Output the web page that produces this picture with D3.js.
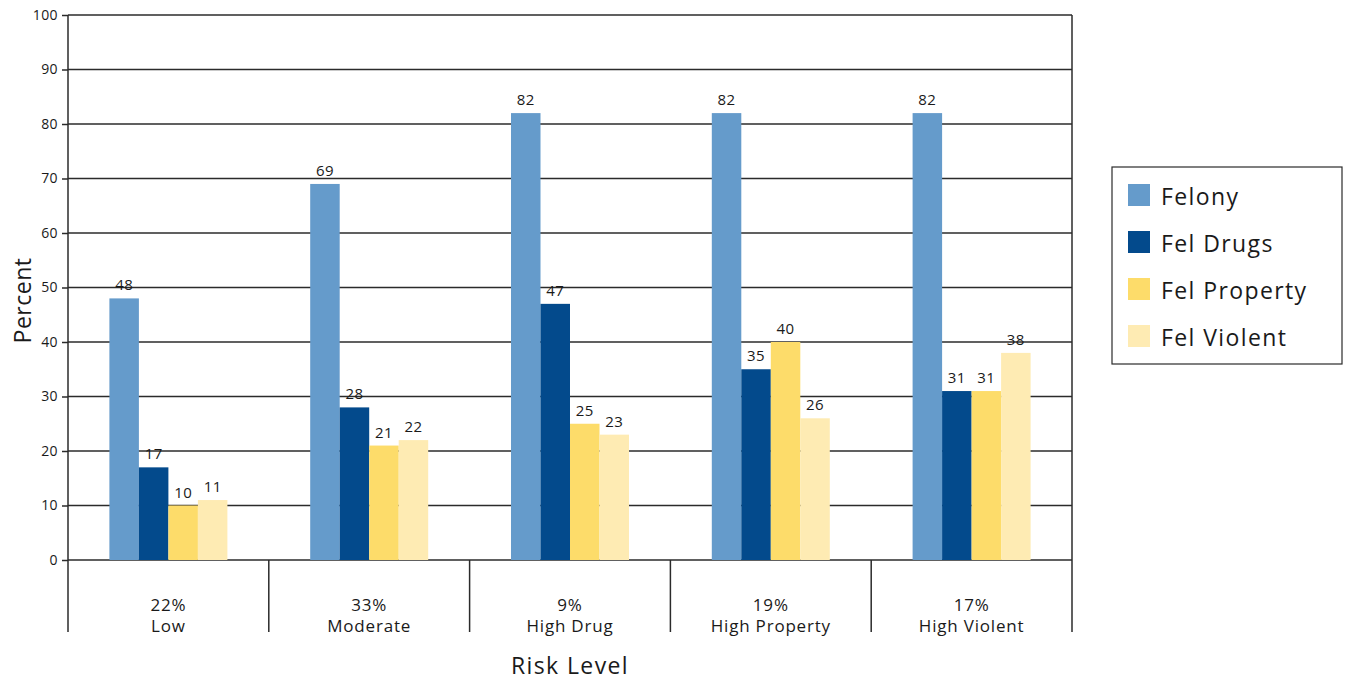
<!DOCTYPE html>
<html>
<head>
<meta charset="utf-8">
<script src="https://cdn.jsdelivr.net/npm/d3@7"></script>
<style>
  body { margin: 0; background: #fff; }
  text { font-family: "Open Sans", "Noto Sans", sans-serif; fill: #1a1a1a; }
</style>
</head>
<body>
<div id="chart"></div>
<script>
// categories and series
var shares = ["22%", "33%", "9%", "19%", "17%"]
var levels = ["Low", "Moderate", "High Drug", "High Property", "High Violent"]
var seriesNames = ["Felony", "Fel Drugs", "Fel Property", "Fel Violent"]
var felony = [48, 69, 82, 82, 82]
var felDrugs = [17, 28, 47, 35, 31]
var felProperty = [10, 21, 25, 40, 31]
var felViolent = [11, 22, 23, 26, 38]
var yTicks = [0, 10, 20, 30, 40, 50, 60, 70, 80, 90, 100]

var colors = ["#659bcb", "#034a8c", "#fddc6a", "#feebb3"]
var seriesValues = [felony, felDrugs, felProperty, felViolent]

var margin = {top: 15, right: 273, bottom: 121, left: 68},
    width = 1345 - margin.left - margin.right,
    height = 681 - margin.top - margin.bottom;

var svg = d3.select("#chart")
  .append("svg")
    .attr("width", 1345)
    .attr("height", 681)

var chart = svg.append("g")
  .attr("transform", "translate(" + margin.left + "," + margin.top + ")")

var x = d3.scaleBand()
  .domain(levels)
  .range([0, width])

var inner = d3.scaleBand()
  .domain(seriesNames)
  .range([0, 118])

var y = d3.scaleLinear()
  .domain([0, 100])
  .range([height, 0])

// gridlines
chart.append("g")
  .selectAll("line")
  .data(yTicks)
  .join("line")
    .attr("x1", 0)
    .attr("x2", width)
    .attr("y1", d => y(d))
    .attr("y2", d => y(d))
    .attr("stroke", "#2b2b2b")
    .attr("stroke-width", 1.5)

// Y axis
var yAxis = chart.append("g")
  .call(d3.axisLeft(y).tickValues(yTicks).tickSize(6).tickPadding(4))
yAxis.select(".domain").remove()
yAxis.selectAll("line").attr("stroke", "#2b2b2b").attr("stroke-width", 1.5)
yAxis.selectAll("text")
  .style("font-family", "'Open Sans', 'Noto Sans', sans-serif")
  .style("font-size", "14px")
  .style("letter-spacing", "0.4px")
  .attr("fill", "#1a1a1a")

// bars
levels.forEach((lvl, i) => {
  var g = chart.append("g")
    .attr("transform", "translate(" + (x(lvl) + x.bandwidth() / 2 - 59) + ",0)")
  seriesNames.forEach((s, j) => {
    var v = seriesValues[j][i]
    g.append("rect")
      .attr("x", inner(s))
      .attr("width", inner.bandwidth())
      .attr("y", y(v))
      .attr("height", height - y(v))
      .attr("fill", colors[j])
    g.append("text")
      .attr("x", inner(s) + inner.bandwidth() / 2)
      .attr("y", y(v) - 8)
      .attr("text-anchor", "middle")
      .style("font-size", "15px")
      .style("letter-spacing", "0.4px")
      .text(v)
  })
})

// left axis line and right border
chart.append("line")
  .attr("x1", 0).attr("x2", 0)
  .attr("y1", 0).attr("y2", height + 72)
  .attr("stroke", "#2b2b2b").attr("stroke-width", 1.5)
chart.append("line")
  .attr("x1", width).attr("x2", width)
  .attr("y1", 0).attr("y2", height + 72)
  .attr("stroke", "#2b2b2b").attr("stroke-width", 1.5)

// category dividers
chart.append("g")
  .selectAll("line")
  .data(levels.slice(1))
  .join("line")
    .attr("x1", d => x(d))
    .attr("x2", d => x(d))
    .attr("y1", height)
    .attr("y2", height + 72)
    .attr("stroke", "#2b2b2b")
    .attr("stroke-width", 1.5)

// category labels
var cat = chart.append("g")
  .selectAll("text")
  .data(levels)
  .join("text")
    .attr("x", d => x(d) + x.bandwidth() / 2)
    .attr("y", height + 51)
    .attr("text-anchor", "middle")
    .style("font-size", "17px")
    .style("letter-spacing", "0.8px")
cat.append("tspan")
  .attr("x", d => x(d) + x.bandwidth() / 2)
  .text((d, i) => shares[i])
cat.append("tspan")
  .attr("x", d => x(d) + x.bandwidth() / 2)
  .attr("dy", 21)
  .text(d => d)

// axis titles
chart.append("text")
  .attr("transform", "translate(" + (-37) + "," + (height / 2 + 13) + ") rotate(-90)")
  .attr("text-anchor", "middle")
  .style("font-size", "23px")
  .style("letter-spacing", "0.5px")
  .text("Percent")

chart.append("text")
  .attr("x", width / 2)
  .attr("y", height + 114)
  .attr("text-anchor", "middle")
  .style("font-size", "23px")
  .style("letter-spacing", "1.4px")
  .text("Risk Level")

// legend
var legend = svg.append("g")
  .attr("transform", "translate(1112,167)")
legend.append("rect")
  .attr("width", 230)
  .attr("height", 197)
  .attr("fill", "#fff")
  .attr("stroke", "#2b2b2b")
  .attr("stroke-width", 1.2)
var item = legend.selectAll(".item")
  .data(seriesNames)
  .join("g")
    .attr("transform", (d, i) => "translate(16," + (17 + i * 47) + ")")
item.append("rect")
  .attr("width", 22)
  .attr("height", 22)
  .attr("fill", (d, i) => colors[i])
item.append("text")
  .attr("x", 33)
  .attr("y", 21)
  .style("font-size", "23px")
  .style("letter-spacing", "1.4px")
  .text(d => d)
</script>
</body>
</html>
